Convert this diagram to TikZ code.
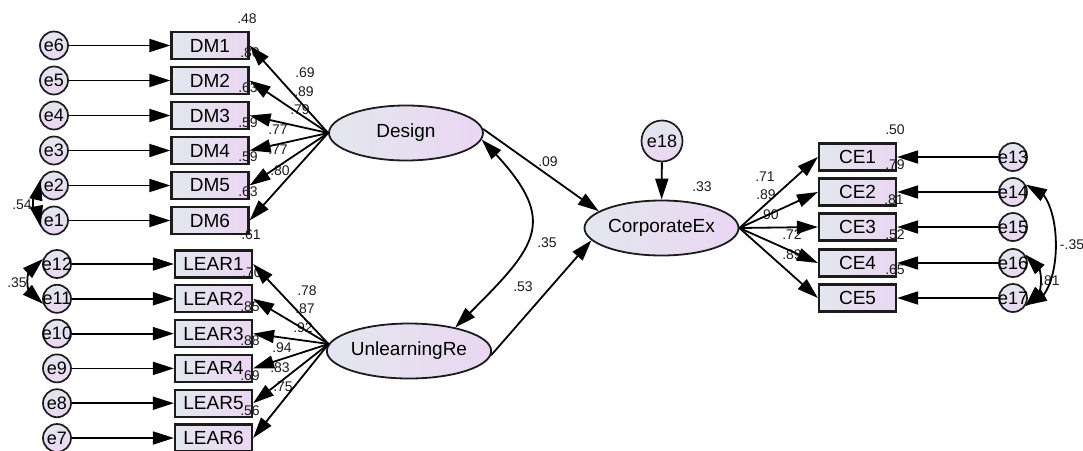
\documentclass[tikz,border=0pt]{standalone}
\usepackage{fontspec}
\setmainfont{Liberation Sans}
\usetikzlibrary{arrows.meta,shapes.geometric,bending}

\definecolor{fillL}{RGB}{227,231,238}
\definecolor{fillR}{RGB}{234,214,242}
\definecolor{inkc}{RGB}{28,28,28}

\tikzset{
  amostip/.tip={Triangle[length=21pt,width=13pt]},
  obs/.style={draw=inkc, line width=2.2pt, minimum width=77pt, minimum height=27pt,
    inner sep=0pt, left color=fillL, right color=fillR,
    font=\fontsize{19}{19}\selectfont},
  lat/.style={ellipse, draw=inkc, line width=1.8pt, minimum width=154pt, minimum height=55pt,
    inner sep=0pt, left color=fillL, right color=fillR,
    font=\fontsize{19}{19}\selectfont},
  err/.style={circle, draw=inkc, line width=1.7pt, minimum size=28pt, inner sep=0pt,
    top color=fillL, bottom color=fillR},
  errtext/.style={font=\fontsize{18}{18}\selectfont, inner sep=0pt},
  num/.style={font=\fontsize{14}{14}\selectfont, text=inkc, inner sep=0pt},
  conn/.style={draw=black, line width=1.8pt, -{amostip}},
  cov/.style={draw=black, line width=1.8pt, {amostip}-{amostip}},
}

\begin{document}
\begin{tikzpicture}[x=1pt,y=1pt]
\useasboundingbox (0,0) rectangle (1083,-450);

% latent variables
\node[lat] (Design) at (406,-133) {Design};
\node[lat] (UnlearningRe) at (409,-351) {UnlearningRe};
\node[lat] (CorporateEx) at (661.5,-228) {CorporateEx};
\node[err, minimum size=41pt, label={[errtext]center:e18}] (e18) at (662,-141) {};

% Design indicators and their errors
\foreach \i/\e/\y in {1/6/45.5, 2/5/80.5, 3/4/115.5, 4/3/150.5, 5/2/185.5, 6/1/220.5} {
  \node[obs] (DM\i) at (210,-\y) {DM\i};
  \node[err, label={[errtext]center:e\e}] (e\e) at (54,-\y) {};
}

% Unlearning indicators and their errors
\foreach \i/\e/\y in {1/12/264, 2/11/298.8, 3/10/333.6, 4/9/368.4, 5/8/403.2, 6/7/438} {
  \node[obs] (LEAR\i) at (213.5,-\y) {LEAR\i};
  \node[err, label={[errtext]center:e\e}] (e\e) at (57,-\y) {};
}

% Corporate indicators and their errors
\foreach \i/\e/\y in {1/13/157, 2/14/192, 3/15/227, 4/16/263, 5/17/298} {
  \node[obs] (CE\i) at (857.5,-\y) {CE\i};
  \node[err, label={[errtext]center:e\e}] (e\e) at (1013,-\y) {};
}

% squared multiple correlations
\foreach \t/\x/\y [count=\k] in {.48/247/19, .80/250/53, .63/248/88, .59/248/123, .59/248/157,
  .63/248/192, .61/251/235, .70/252/273, .85/250/307, .88/250/341, .69/250/376, .56/250/411,
  .50/895/130, .79/895/165, .81/894/200, .52/895/235, .65/895/270, .33/702/187}
  \node[num] (r\k) at (\x,-\y) {\t};

% loadings
\foreach \t/\x/\y [count=\k] in {.69/305/73, .89/304/92, .79/300/110, .77/278/130, .77/278/150,
  .80/280/171, .78/307/291, .87/305/309, .92/303/328, .94/282/348, .83/280/368, .75/283/387,
  .71/765/177, .89/766/195, .90/769/215, .72/792/235, .89/792/255}
  \node[num] (w\k) at (\x,-\y) {\t};

% path coefficients and covariances
\node[num] (pD) at (548,-162) {.09};
\node[num] (pU) at (523,-287) {.53};
\node[num] (cDU) at (547,-243) {.35};
\node[num] (c21) at (22,-205) {.54};
\node[num] (c1211) at (17,-283) {.35};
\node[num] (c1417) at (1072,-245) {-.35};
\node[num] (c1617) at (1050,-281) {.81};

% error arrows
\foreach \i/\e in {1/6, 2/5, 3/4, 4/3, 5/2, 6/1} \draw[conn] (e\e) -- (DM\i);
\foreach \i/\e in {1/12, 2/11, 3/10, 4/9, 5/8, 6/7} \draw[conn] (e\e) -- (LEAR\i);
\foreach \i/\e in {1/13, 2/14, 3/15, 4/16, 5/17} \draw[conn] (e\e) -- (CE\i);
\draw[conn] (e18) -- (CorporateEx);

% loading arrows
\foreach \i in {1,...,6} \draw[conn] (Design.west) -- (DM\i.east);
\foreach \i in {1,...,6} \draw[conn] (UnlearningRe.175) -- (LEAR\i.east);
\foreach \i in {1,...,5} \draw[conn] (CorporateEx.east) -- (CE\i.west);

% structural paths
\draw[conn] (Design.3) -- (CorporateEx.165);
\draw[conn] (UnlearningRe.-3) -- (CorporateEx.190);
\draw[cov] (Design.-5) to[out=-45,in=45,looseness=1.6] (UnlearningRe.27);

% error covariances
\draw[cov] (e2.155) to[out=180,in=180,looseness=0.55] (e1.205);
\draw[cov] (e12.160) to[out=180,in=180,looseness=1.2] (e11.200);
\draw[cov] (e14.30) to[out=0,in=0,looseness=0.85] (e17.-30);
\draw[cov] (e16.35) to[out=0,in=0,looseness=1.04] (e17.-35);
\end{tikzpicture}
\end{document}
